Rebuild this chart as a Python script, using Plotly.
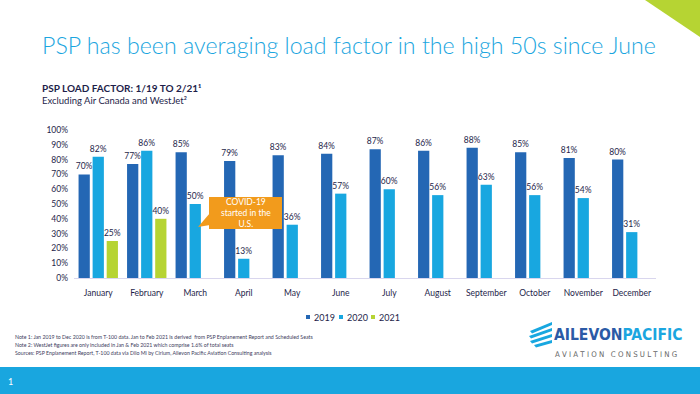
import plotly.graph_objects as go

months = ["January", "February", "March", "April", "May", "June", "July",
          "August", "September", "October", "November", "December"]
lf_2019 = [70, 77, 85, 79, 83, 84, 87, 86, 88, 85, 81, 80]
lf_2020 = [82, 86, 50, 13, 36, 57, 60, 56, 63, 56, 54, 31]
lf_2021 = [25, 40, None, None, None, None, None, None, None, None, None, None]
series_names = ["2019", "2020", "2021"]
y_ticks = list(range(0, 101, 10))

C2019 = "#2467b4"
C2020 = "#18a7e0"
C2021 = "#b6d433"
NAVY = "#1e1e4a"
FONT = "Lato"

W, H = 700, 394
ML, MR, MT, MB = 74, 44, 130, 116
PW = W - ML - MR
PH = H - MT - MB


def px(x):
    return (x - ML) / PW


def py(y):
    return (H - MB - y) / PH


fig = go.Figure()
for name, vals, col in zip(series_names, [lf_2019, lf_2020, lf_2021], [C2019, C2020, C2021]):
    fig.add_trace(go.Bar(
        x=months, y=vals, name=name, marker=dict(color=col, line=dict(width=0)),
        text=[f"{v}%" if v is not None else "" for v in vals],
        textposition="outside", cliponaxis=False, constraintext="none",
        textfont=dict(family=FONT, size=8.5, color=NAVY), showlegend=False,
        hoverinfo="skip",
    ))

shapes = []
shapes.append(dict(type="path", xref="paper", yref="paper", line=dict(width=0), fillcolor=C2021,
                   path=f"M {px(645)},{py(0)} L {px(700)},{py(0)} L {px(700)},{py(37)} Z"))
shapes.append(dict(type="rect", xref="paper", yref="paper", line=dict(width=0), fillcolor="#19a6df",
                   x0=px(0), x1=px(700), y0=py(367), y1=py(394), layer="below"))
shapes.append(dict(type="rect", xref="paper", yref="paper", line=dict(width=0), fillcolor="#f29b1c",
                   x0=px(209), x1=px(282), y0=py(229), y1=py(197)))
shapes.append(dict(type="path", xref="paper", yref="paper", line=dict(width=0), fillcolor="#f29b1c",
                   path=f"M {px(210)},{py(213)} L {px(210)},{py(225)} L {px(198)},{py(227)} Z"))
for (a, b) in [((530, 331), (552, 322)), ((529, 336), (552, 328)), ((530, 341), (552, 334)), ((534, 345), (552, 340))]:
    (x0, y0), (x1, y1) = a, b
    shapes.append(dict(type="path", xref="paper", yref="paper", line=dict(width=0), fillcolor=C2020,
                       path=f"M {px(x0)},{py(y0)} L {px(x1)},{py(y1)} L {px(x1)},{py(y1+3)} L {px(x0+2)},{py(y0+2.5)} Z"))


def ann(text, x, y, size, color, xanchor="left", family=FONT, **kw):
    return dict(text=text, x=px(x), y=py(y), xref="paper", yref="paper",
                xanchor=xanchor, yanchor="middle", showarrow=False,
                font=dict(family=family, size=size, color=color, **kw.pop("fontkw", {})), **kw)


spaced = "\u00a0\u00a0\u00a0".join(" ".join(w) for w in ["AVIATION", "CONSULTING"])

annotations = [
    ann("PSP has been averaging load factor in the high 50s since June", 40, 45, 23.2, "#1ba6e0",
        fontkw=dict(weight=300)),
    ann("<b>PSP LOAD FACTOR: 1/19 TO 2/21¹</b>", 40, 88, 10, NAVY),
    ann("Excluding Air Canada and WestJet²", 40, 100, 9.5, NAVY),
    ann("COVID-19<br>started in the<br>U.S.", 245.5, 213, 8.5, "white", xanchor="center", align="center"),
    ann("Note 1: Jan 2019 to Dec 2020 is from T-100 data. Jan to Feb 2021 is derived  from PSP Enplanement Report and Scheduled Seats",
        13, 337, 5.25, "#3c3c5c"),
    ann("Note 2: WestJet figures are only included in Jan & Feb 2021 which comprise 1.6% of total seats",
        13, 345, 5.25, "#3c3c5c"),
    ann("Sources: PSP Enplanement Report, T-100 data via Diio Mi by Cirium, Ailevon Pacific Aviation Consulting analysis",
        13, 353, 5.25, "#3c3c5c"),
    ann("<b><span style='color:#2b5aa6'>AILEVON</span><span style='color:#1ba6e0'>PACIFIC</span></b>",
        552, 335, 15.5, "#2b5aa6", family="DejaVu Sans Condensed"),
    ann(spaced, 553, 354, 7.8, "#666666", family="DejaVu Sans Condensed"),
    ann("1", 6, 381, 9, "white"),
]

leg_x = [308, 341, 373]
for name, col, lx in zip(series_names, [C2019, C2020, C2021], leg_x):
    shapes.append(dict(type="rect", xref="paper", yref="paper", line=dict(width=0), fillcolor=col,
                       x0=px(lx - 2), x1=px(lx + 2), y0=py(319), y1=py(315)))
    annotations.append(ann(name, lx + 3.5, 317, 9, NAVY))

fig.update_layout(
    width=W, height=H, margin=dict(l=ML, r=MR, t=MT, b=MB, autoexpand=False),
    paper_bgcolor="white", plot_bgcolor="white",
    barmode="group", bargap=0.13, bargroupgap=0.2,
    font=dict(family=FONT, color=NAVY),
    showlegend=False, hovermode=False,
    xaxis=dict(showgrid=False, showline=True, linecolor="#d9d6ee", linewidth=1, ticks="",
               ticklabelstandoff=7,
               tickfont=dict(family=FONT, size=8.5, color=NAVY)),
    yaxis=dict(range=[0, 100], tickvals=y_ticks, ticktext=[f"{t}%" for t in y_ticks],
               showgrid=False, zeroline=False, showline=False, ticks="",
               ticklabelstandoff=5,
               tickfont=dict(family=FONT, size=8.5, color=NAVY)),
    shapes=shapes, annotations=annotations,
)

fig.write_html("out.html", config={"displayModeBar": False, "staticPlot": True},
               post_script="document.body.style.margin='0';document.body.style.overflow='hidden';")
